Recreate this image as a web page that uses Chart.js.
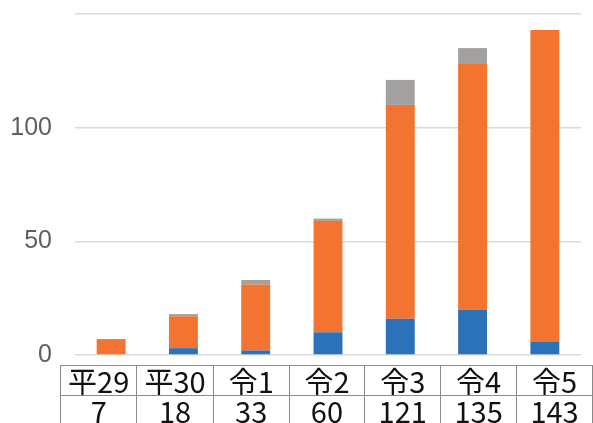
<!DOCTYPE html>
<html>
<head>
<meta charset="utf-8">
<script src="https://cdn.jsdelivr.net/npm/chart.js@4"></script>
<style>
  html, body { margin: 0; padding: 0; background: #fff; overflow: hidden; }
  #wrap { position: relative; width: 593px; height: 423px; overflow: hidden; }
  #c { position: absolute; left: 0; top: 0; }
  #tbl { position: absolute; left: 60px; top: 365px; border-collapse: collapse; table-layout: fixed;
         font-family: "Noto Sans CJK JP", sans-serif; font-size: 29px; color: #111; }
  #tbl td { border: 1px solid #8a8a8a; width: 76px; height: 29px; padding: 0; text-align: center;
            line-height: 29px; white-space: nowrap; overflow: hidden; }
</style>
</head>
<body>
<div id="wrap">
  <canvas id="c" width="593" height="423"></canvas>
  <table id="tbl"><tr id="r1"></tr><tr id="r2"></tr></table>
</div>
<script>
const categories = ["平29", "平30", "令1", "令2", "令3", "令4", "令5"];
const blueValues = [0, 3, 2, 10, 16, 20, 6];
const orangeValues = [7, 14, 29, 49, 94, 108, 137];
const grayValues = [0, 1, 2, 1, 11, 7, 0];
const totals = [7, 18, 33, 60, 121, 135, 143];
const yTicks = [0, 50, 100, 150];

// data table under the chart
const r1 = document.getElementById('r1');
const r2 = document.getElementById('r2');
categories.forEach((c, i) => {
  const a = document.createElement('td'); a.textContent = c; r1.appendChild(a);
  const b = document.createElement('td'); b.textContent = String(totals[i]); r2.appendChild(b);
});

new Chart(document.getElementById('c'), {
  type: 'bar',
  data: {
    labels: categories,
    datasets: [
      { label: 'A', data: blueValues, backgroundColor: '#2C72B8' },
      { label: 'B', data: orangeValues, backgroundColor: '#F27430' },
      { label: 'C', data: grayValues, backgroundColor: '#A3A19F' }
    ]
  },
  options: {
    responsive: false,
    animation: false,
    layout: { padding: { top: 14, right: 12, bottom: 68, left: 0 } },
    plugins: { legend: { display: false }, tooltip: { enabled: false } },
    datasets: { bar: { categoryPercentage: 1, barPercentage: 0.4 } },
    scales: {
      x: { stacked: true, display: false, offset: true },
      y: {
        stacked: true,
        min: 0, max: 150,
        afterBuildTicks: (s) => { s.ticks = yTicks.map(v => ({ value: v })); },
        afterFit: (s) => { s.width = 75; s.paddingTop = 0; s.paddingBottom = 0; },
        border: { display: false },
        grid: { color: '#D9D9D9', lineWidth: 1.5, drawTicks: false },
        ticks: {
          padding: 23,
          color: '#5f5f5f',
          font: { family: '"Liberation Sans Narrow", "Liberation Sans", sans-serif', size: 25 },
          callback: (v) => (v === 150 ? '' : String(v))
        }
      }
    }
  }
});
</script>
</body>
</html>
